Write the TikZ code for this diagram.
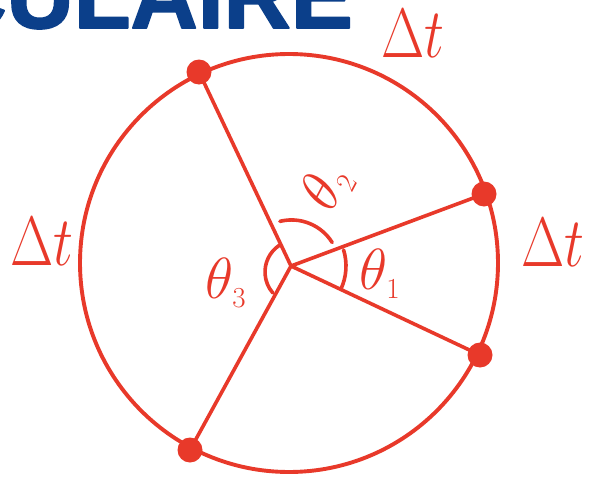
\RequirePackage{fix-cm}
\documentclass[tikz,border=0pt]{standalone}
\usepackage{fontspec}
\newfontfamily\titlefont{Liberation Sans}[BoldFeatures={FakeBold=2}]
\definecolor{ink}{HTML}{E8392A}
\definecolor{titleblue}{HTML}{0B3F8A}
\newcommand{\narrowlab}[1]{\scalebox{0.8}[1]{#1}}
\begin{document}
\begin{tikzpicture}[x=1pt,y=-1pt, line cap=round, line join=round,
  stroke/.style={draw=ink, line width=3.6pt},
  dot/.style={circle, fill=ink, inner sep=0pt, minimum size=25pt},
  lab/.style={text=ink, inner sep=0pt, font=\fontsize{70}{70}\selectfont},
  thlab/.style={text=ink, inner sep=0pt, font=\fontsize{58}{58}\selectfont}]
\useasboundingbox (0,0) rectangle (595,479);
\clip (0,0) rectangle (595,479);
\fill[white] (0,0) rectangle (595,479);
% title (cut off at the top)
\node[anchor=base east, inner sep=0pt, text=titleblue,
  font=\titlefont\bfseries\fontsize{93}{93}\selectfont] (title) at (353,28) {CIRCULAIRE};
% circle and points
\coordinate (O) at (291,266);
\draw[stroke, line width=3.9pt] (289,263) circle[radius=209];
\node[dot] (A) at (199,72) {};
\node[dot] (B) at (484,194) {};
\node[dot] (C) at (480,355) {};
\node[dot] (D) at (190,450) {};
\draw[stroke] (O) -- (A.center);
\draw[stroke] (O) -- (B.center);
\draw[stroke] (O) -- (C.center);
\draw[stroke] (O) -- (D.center);
% angle arcs
\draw[stroke] (O) ++(-17:55) arc[start angle=-17, end angle=25, radius=55];
\draw[stroke] (O) ++(-104:46) arc[start angle=-104, end angle=-32, radius=48];
\draw[stroke] (297,272) ++(-124:32) arc[start angle=-124, end angle=-221, radius=32];
% labels
\node[lab] (dt1) at (413,34) {\narrowlab{$\Delta t$}};
\node[lab] (dt2) at (42,242) {\narrowlab{$\Delta t$}};
\node[lab] (dt3) at (553,243) {\narrowlab{$\Delta t$}};
\node[thlab] (th1) at (380,274) {$\theta_{\scriptscriptstyle 1}$};
\node[thlab, rotate=62] (th2) at (327,188) {$\theta_{\scriptscriptstyle 2}$};
\node[thlab] (th3) at (226,283) {$\theta_{\scriptscriptstyle 3}$};
\end{tikzpicture}
\end{document}
